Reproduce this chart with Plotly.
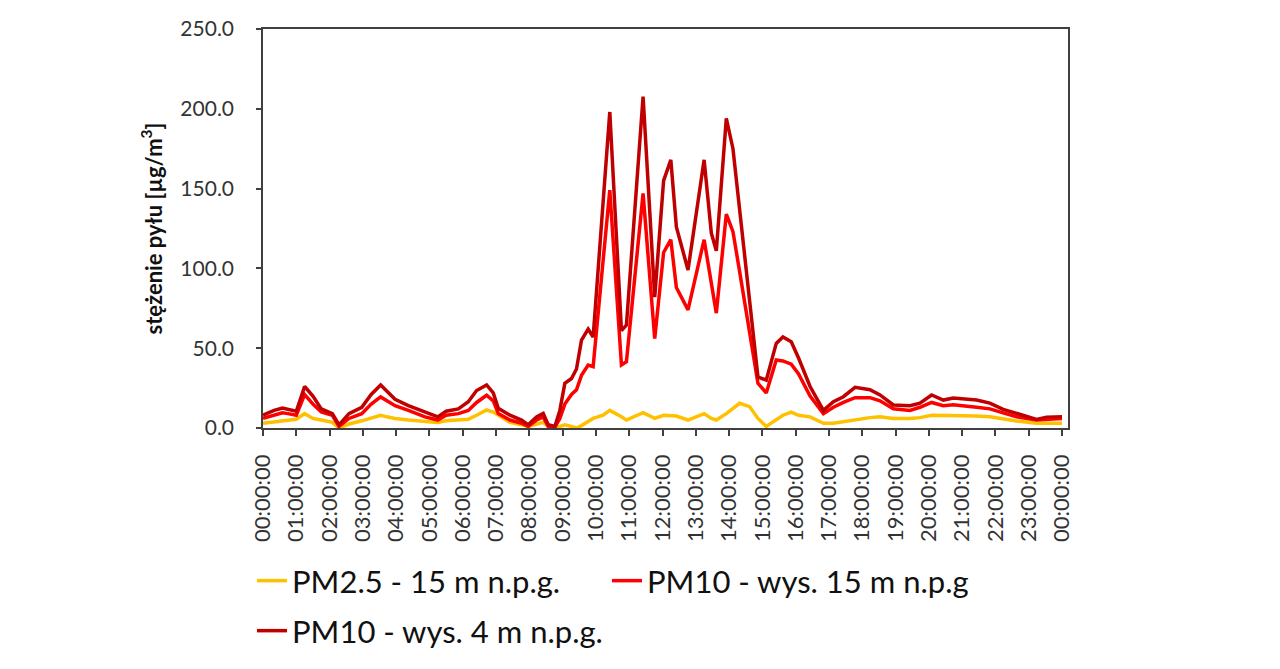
import plotly.graph_objects as go

# ---- data ----
time_labels = [
    "00:00", "00:20", "00:35", "00:45", "01:00", "01:15", "01:30", "01:45", "02:05", "02:17",
    "02:35", "02:58", "03:15", "03:32", "03:43", "03:58", "04:22", "04:52", "05:15", "05:30",
    "05:52", "06:10", "06:25", "06:43", "06:55", "07:04", "07:25", "07:46", "07:58", "08:13",
    "08:25", "08:34", "08:46", "08:55", "09:04", "09:16", "09:25", "09:34", "09:46", "09:55",
    "10:13", "10:25", "10:46", "10:55", "11:25", "11:46", "12:02", "12:15", "12:25", "12:46",
    "13:15", "13:28", "13:37", "13:55", "14:07", "14:19", "14:37", "14:52", "15:07", "15:25",
    "15:37", "15:52", "16:05", "16:26", "16:50", "17:08", "17:26", "17:47", "18:14", "18:32",
    "18:56", "19:26", "19:44", "20:05", "20:26", "20:44", "21:26", "21:50", "22:14", "22:38",
    "23:14", "23:32", "24:00",
]

pm25_15m = [
    3, 4, 4.5, 5, 5.5, 9, 6, 5, 3.5, 0,
    2.5, 4.5, 6, 8, 7, 6, 5, 4, 3.5, 4.5,
    5, 5.5, 8, 11.3, 10, 8, 3.5, 2, 1, 2.5,
    3.5, 1, 0.5, 1, 2, 1, 0, 1.5, 4, 6,
    8, 11, 7, 5, 9.6, 6, 8, 8, 7.5, 5,
    9, 6, 5, 9, 12, 15.5, 13.4, 6, 1, 5,
    8, 10, 8, 7, 3, 3, 4, 5, 6.5, 7,
    6, 6, 6.5, 8, 8, 8, 7.5, 7, 5.5, 4.4,
    3, 3, 3,
]

pm10_15m = [
    6, 8, 9.5, 9, 8, 21, 15, 10, 8, 1,
    6, 9, 15, 19.5, 17, 14, 11, 7, 5, 8,
    9, 11, 16, 20.5, 17, 9, 5, 3, 1, 5,
    7, 1, 0.5, 6, 15, 21, 24, 33, 39.5, 38.5,
    105, 149, 39.5, 41.5, 147, 56, 110, 118, 88, 74,
    118, 91, 72, 134, 123, 98, 60, 28, 22, 42.6,
    42, 40, 34, 20, 9, 13, 16, 19, 19, 17,
    12, 11, 13, 16, 14, 14.5, 13, 12, 9.5, 7,
    5, 5.5, 6,
]

pm10_4m = [
    8, 11, 12.5, 11.5, 10.5, 26, 20, 12, 9, 2,
    9, 13, 21, 27, 23, 18, 14, 10, 7, 10.5,
    12, 16.5, 23.5, 27, 22, 12.3, 8, 5, 2, 7,
    9.2, 2, 1, 11, 28, 31, 37, 55, 62, 57,
    142, 198, 61, 64.5, 207.6, 82, 155, 168, 126, 99,
    168, 122, 111, 194, 175, 137, 80, 32, 30, 53,
    57, 54, 44, 26, 11, 16.5, 19.6, 25.5, 24, 20.7,
    14.4, 14, 15.6, 20.7, 17.5, 18.8, 17.5, 15.6, 11.7, 9.2,
    5.4, 6.7, 7,
]

tick_hours = list(range(25))
tick_text = [
    "00:00:00", "01:00:00", "02:00:00", "03:00:00", "04:00:00", "05:00:00", "06:00:00",
    "07:00:00", "08:00:00", "09:00:00", "10:00:00", "11:00:00", "12:00:00", "13:00:00",
    "14:00:00", "15:00:00", "16:00:00", "17:00:00", "18:00:00", "19:00:00", "20:00:00",
    "21:00:00", "22:00:00", "23:00:00", "00:00:00",
]
y_ticks = [0, 50, 100, 150, 200, 250]
y_tick_text = ["0.0", "50.0", "100.0", "150.0", "200.0", "250.0"]

series_names = ["PM2.5 - 15 m n.p.g.", "PM10 - wys. 15 m n.p.g", "PM10 - wys. 4 m n.p.g."]
series_colors = ["#FFC000", "#FF0000", "#C00000"]


def to_hours(s):
    h, m = s.split(":")
    return int(h) + int(m) / 60.0


x_hours = [to_hours(t) for t in time_labels]

fig = go.Figure()
for name, vals, col, leg in zip(series_names, [pm25_15m, pm10_15m, pm10_4m], series_colors,
                                ["legend", "legend3", "legend2"]):
    fig.add_trace(go.Scatter(x=x_hours, y=vals, mode="lines", name=name,
                             line=dict(color=col, width=3.5), legend=leg))

axis_col = "#404040"
L, R, T, B = 263, 1068, 29, 428
W, H = 1280, 669
pw = R - L
ph = B - T


def px_x(p):
    return (p - L) / pw


def px_y(p):
    return (B - p) / ph


leg_font = dict(family="Lato", size=31, color="#111111")

fig.update_layout(
    width=W, height=H,
    margin=dict(l=L, r=W - R, t=T, b=H - B, autoexpand=False),
    paper_bgcolor="white", plot_bgcolor="white",
    showlegend=True,
    xaxis=dict(
        range=[0, 24 * pw / 799.0],
        tickmode="array", tickvals=tick_hours, ticktext=tick_text,
        tickangle=-90, ticks="outside", ticklen=6, tickwidth=1.5, tickcolor=axis_col,
        showline=True, linecolor=axis_col, linewidth=1.5, mirror=True,
        showgrid=False, zeroline=False,
        tickfont=dict(family="Lato", size=22, color="#333333"),
        ticklabelstandoff=10,
    ),
    yaxis=dict(
        range=[0, 250],
        tickmode="array", tickvals=y_ticks, ticktext=y_tick_text,
        ticks="outside", ticklen=5, tickwidth=1.5, tickcolor=axis_col,
        showline=True, linecolor=axis_col, linewidth=1.5, mirror=True,
        showgrid=False, zeroline=False,
        tickfont=dict(family="Lato", size=21, color="#333333"),
        ticklabelstandoff=18,
        title=dict(text="stężenie pyłu [µg/m<sup>3</sup>]", standoff=12,
                   font=dict(family="Lato", size=22, color="#111111", weight="bold")),
    ),
    legend=dict(
        orientation="h", x=px_x(252), xanchor="left", y=px_y(581), yanchor="middle",
        font=leg_font, bgcolor="rgba(0,0,0,0)",
    ),
    legend3=dict(
        orientation="h", x=px_x(607), xanchor="left", y=px_y(581), yanchor="middle",
        font=leg_font, bgcolor="rgba(0,0,0,0)",
    ),
    legend2=dict(
        orientation="h", x=px_x(252), xanchor="left", y=px_y(631), yanchor="middle",
        font=leg_font, bgcolor="rgba(0,0,0,0)",
    ),
)

fig.write_html("out.html")
